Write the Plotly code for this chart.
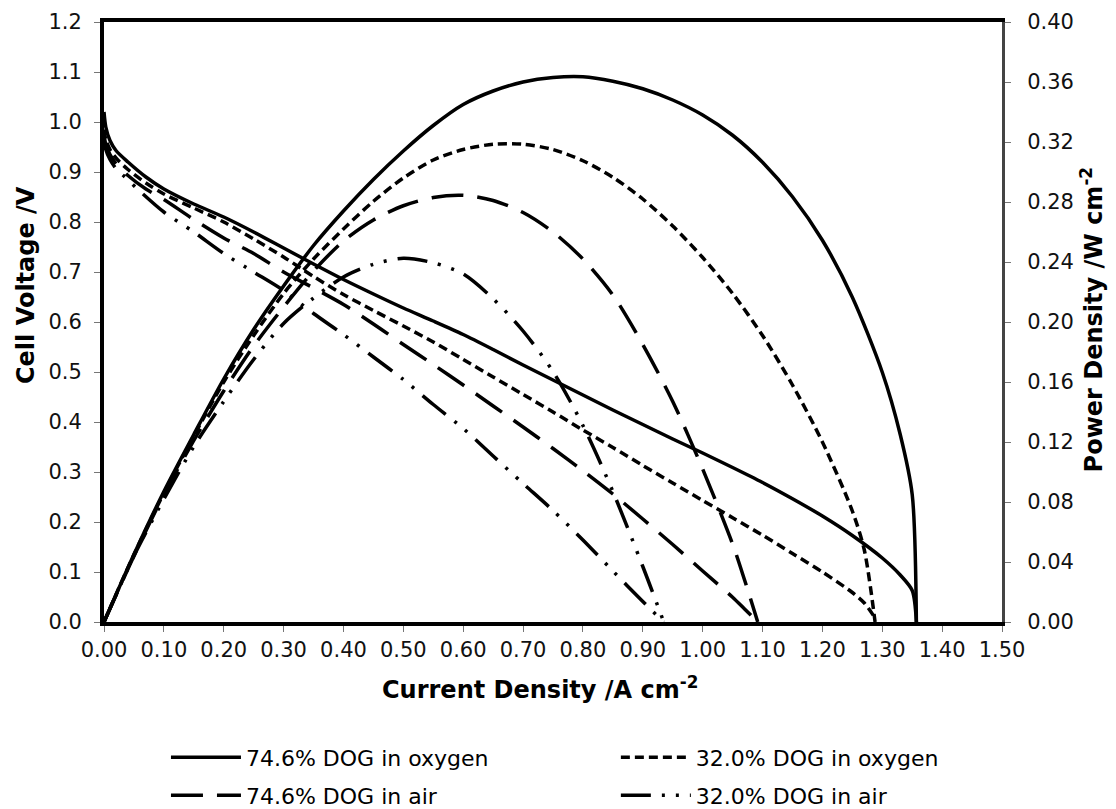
import plotly.graph_objects as go

# ---------------- data ----------------
# 74.6% DOG in oxygen
o746_I_v = [0.000, 0.003, 0.01, 0.02, 0.04, 0.07, 0.10, 0.15, 0.20, 0.25, 0.30, 0.35, 0.40, 0.45, 0.50, 0.55,
            0.60, 0.65, 0.70, 0.75, 0.80, 0.85, 0.90, 0.95, 1.00, 1.05, 1.10, 1.15, 1.20, 1.25, 1.30,
            1.33, 1.35, 1.357]
o746_V = [1.02, 0.99, 0.963, 0.943, 0.92, 0.89, 0.866, 0.836, 0.81, 0.78, 0.748, 0.716, 0.685, 0.656, 0.628, 0.602,
          0.575, 0.545, 0.514, 0.484, 0.454, 0.424, 0.395, 0.366, 0.338, 0.309, 0.279, 0.2465, 0.212, 0.173, 0.128,
          0.094, 0.063, 0.0]
o746_I_p = [0.0, 0.05, 0.10, 0.15, 0.20, 0.25, 0.30, 0.35, 0.40, 0.45, 0.50, 0.55, 0.60, 0.65, 0.70,
            0.75, 0.80, 0.85, 0.90, 0.95, 1.00, 1.05, 1.10, 1.15, 1.20, 1.25, 1.30, 1.33, 1.35, 1.357]
o746_P = [0.0, 0.045, 0.087, 0.125, 0.162, 0.195, 0.224, 0.251, 0.274, 0.295, 0.314, 0.331, 0.345, 0.354, 0.360,
          0.363, 0.3635, 0.3605, 0.3555, 0.348, 0.338, 0.3245, 0.3065, 0.2835, 0.2545, 0.2165, 0.1665, 0.125,
          0.085, 0.0]

# 32.0% DOG in oxygen
o320_I_v = [0.000, 0.003, 0.01, 0.02, 0.04, 0.07, 0.10, 0.15, 0.20, 0.25, 0.30, 0.35, 0.40, 0.45, 0.50, 0.55,
            0.60, 0.65, 0.70, 0.75, 0.80, 0.85, 0.90, 0.95, 1.00, 1.05, 1.10, 1.15, 1.20, 1.25, 1.27, 1.288]
o320_V = [0.985, 0.965, 0.945, 0.928, 0.905, 0.878, 0.856, 0.828, 0.80, 0.766, 0.73, 0.691, 0.655, 0.623, 0.592, 0.56,
          0.525, 0.49, 0.455, 0.42, 0.384, 0.349, 0.313, 0.278, 0.243, 0.2086, 0.1736, 0.137, 0.10, 0.059, 0.038, 0.008]
o320_I_p = [0.0, 0.05, 0.10, 0.15, 0.20, 0.25, 0.30, 0.35, 0.40, 0.45, 0.50, 0.55, 0.60, 0.65, 0.70,
            0.75, 0.80, 0.85, 0.90, 0.95, 1.00, 1.05, 1.10, 1.15, 1.20, 1.25, 1.27, 1.288]
o320_P = [0.0, 0.045, 0.086, 0.124, 0.16, 0.191, 0.219, 0.242, 0.262, 0.2805, 0.296, 0.308, 0.315, 0.3185, 0.3185,
          0.315, 0.3075, 0.2965, 0.282, 0.264, 0.243, 0.219, 0.191, 0.158, 0.12, 0.074, 0.048, 0.0]

# 74.6% DOG in air
a746_I_v = [0.000, 0.003, 0.01, 0.02, 0.04, 0.07, 0.10, 0.15, 0.20, 0.25, 0.30, 0.35, 0.40, 0.45, 0.50, 0.55,
            0.60, 0.65, 0.70, 0.75, 0.80, 0.85, 0.90, 0.95, 1.00, 1.05, 1.07, 1.092]
a746_V = [0.975, 0.955, 0.935, 0.917, 0.893, 0.866, 0.845, 0.805, 0.768, 0.737, 0.70, 0.668, 0.635, 0.596, 0.555, 0.515,
          0.474, 0.432, 0.39, 0.347, 0.3025, 0.256, 0.206, 0.155, 0.102, 0.0495, 0.026, 0.0]
a746_I_p = [0.0, 0.05, 0.10, 0.15, 0.20, 0.25, 0.30, 0.35, 0.40, 0.45, 0.50, 0.55, 0.60, 0.65, 0.70,
            0.75, 0.80, 0.85, 0.90, 0.95, 1.00, 1.05, 1.07, 1.092]
a746_P = [0.0, 0.044, 0.085, 0.121, 0.154, 0.184, 0.21, 0.234, 0.254, 0.268, 0.2775, 0.283, 0.2845, 0.281, 0.273,
          0.26, 0.242, 0.218, 0.185, 0.147, 0.102, 0.052, 0.028, 0.0]

# 32.0% DOG in air
a320_I_v = [0.000, 0.003, 0.01, 0.02, 0.035, 0.055, 0.10, 0.15, 0.20, 0.25, 0.30, 0.35, 0.40, 0.45, 0.50, 0.55,
            0.60, 0.65, 0.70, 0.75, 0.80, 0.85, 0.90, 0.935]
a320_V = [0.965, 0.945, 0.925, 0.907, 0.89, 0.867, 0.82, 0.78, 0.737, 0.70, 0.663, 0.617, 0.575, 0.53, 0.485, 0.435,
          0.387, 0.332, 0.277, 0.223, 0.164, 0.102, 0.041, 0.0]
a320_I_p = [0.0, 0.05, 0.10, 0.15, 0.20, 0.25, 0.30, 0.35, 0.40, 0.45, 0.50, 0.55, 0.60, 0.65, 0.70,
            0.75, 0.80, 0.85, 0.90, 0.935]
a320_P = [0.0, 0.044, 0.082, 0.117, 0.147, 0.175, 0.199, 0.216, 0.23, 0.2385, 0.2425, 0.2395, 0.232, 0.2155, 0.194,
          0.167, 0.131, 0.087, 0.037, 0.0]

x_ticks = [i / 10 for i in range(16)]
x_tick_text = ["%.2f" % v for v in x_ticks]

series = [
    ("74.6% DOG in oxygen", o746_I_v, o746_V, o746_I_p, o746_P, "solid", "legend"),
    ("32.0% DOG in oxygen", o320_I_v, o320_V, o320_I_p, o320_P, "9px,5px", "legend2"),
    ("74.6% DOG in air", a746_I_v, a746_V, a746_I_p, a746_P, "32px,14px", "legend3"),
    ("32.0% DOG in air", a320_I_v, a320_V, a320_I_p, a320_P, "30px,11px,3px,11px,3px,11px", "legend4"),
]

FONT = "DejaVu Sans, Arial, sans-serif"
fig = go.Figure()
for name, iv, v, ip, p, dash, leg in series:
    fig.add_trace(go.Scatter(x=iv, y=v, mode="lines", name=name, legendgroup=name, legend=leg,
                             line=dict(color="black", width=3.5, dash=dash, shape="spline", smoothing=0.8),
                             yaxis="y"))
    fig.add_trace(go.Scatter(x=ip, y=p, mode="lines", name=name, legendgroup=name, showlegend=False,
                             line=dict(color="black", width=3.5, dash=dash, shape="spline", smoothing=0.8),
                             yaxis="y2"))

tickfont = dict(family=FONT, size=21, color="#111")
titlefont = dict(family=FONT, size=24, color="black", weight="bold")
legfont = dict(family=FONT, size=22, color="black")

def leg(x, y):
    return dict(orientation="h", x=x, y=y, xanchor="left", yanchor="top", font=legfont,
                itemwidth=70, bgcolor="rgba(0,0,0,0)")

fig.update_layout(
    width=1108, height=801,
    margin=dict(l=96, r=114, t=14, b=187, autoexpand=False),
    paper_bgcolor="white", plot_bgcolor="white",
    xaxis=dict(range=[0, 1.5], tickvals=x_ticks, ticktext=x_tick_text, showgrid=False, zeroline=False,
               showline=True, linecolor="black", linewidth=4, mirror=True,
               ticks="outside", ticklen=6, tickcolor="#777", tickwidth=1, tickfont=tickfont),
    yaxis=dict(range=[0, 1.2], dtick=0.1, tickformat=".1f", showgrid=False, zeroline=False,
               showline=True, linecolor="black", linewidth=4,
               ticks="outside", ticklen=6, tickcolor="#777", tickwidth=1, tickfont=tickfont,
               ticklabelstandoff=8),
    yaxis2=dict(range=[0, 0.40], dtick=0.04, tickformat=".2f", overlaying="y", side="right",
                showgrid=False, zeroline=False, showline=True, linecolor="#444", linewidth=3,
                ticks="outside", ticklen=6, tickcolor="#777", tickwidth=1, tickfont=tickfont,
                ticklabelstandoff=12),
    legend=leg(0.069, -0.1906),
    legend2=leg(0.570, -0.1906),
    legend3=leg(0.069, -0.2541),
    legend4=leg(0.570, -0.2541),
    showlegend=True,
    annotations=[
        dict(text="<b>Current Density /A cm<sup>-2</sup></b>", xref="paper", yref="paper", x=0.4855, y=-0.1106,
             xanchor="center", yanchor="middle", showarrow=False, font=titlefont),
        dict(text="<b>Cell Voltage /V</b>", xref="paper", yref="paper", x=-0.0869, y=0.5615, textangle=-90,
             xanchor="center", yanchor="middle", showarrow=False, font=titlefont),
        dict(text="<b>Power Density /W cm<sup>-2</sup></b>", xref="paper", yref="paper", x=1.1005, y=0.503,
             textangle=-90, xanchor="center", yanchor="middle", showarrow=False, font=titlefont),
    ],
)

fig.write_html("out.html")
